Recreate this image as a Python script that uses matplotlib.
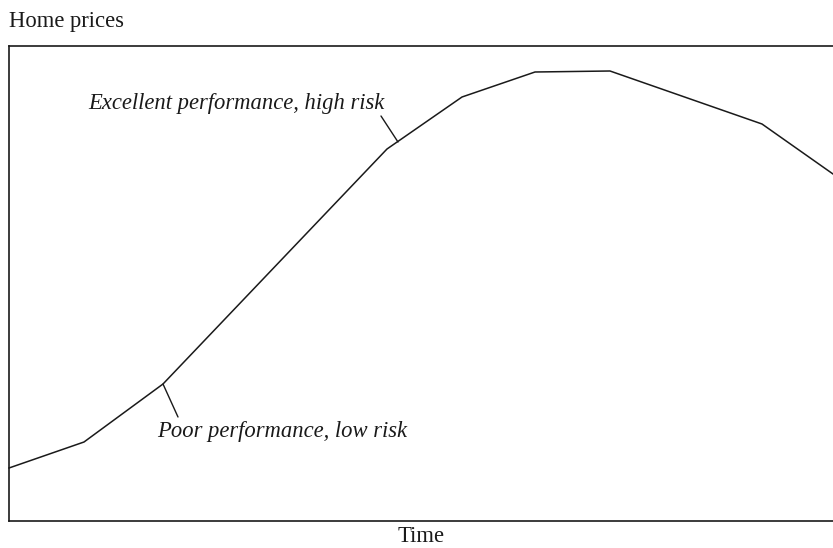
import matplotlib
matplotlib.use("Agg")
import matplotlib.pyplot as plt

# Home price path over time (arbitrary units)
time = [0, 75, 154, 378, 453, 526, 601, 753, 824]
price = [53, 79, 137, 372, 424, 449, 450, 397, 347]

labels = ["Excellent performance, high risk", "Poor performance, low risk"]
# (text x, text y, leader start, leader end on curve)
label_pos = [(376, 418, (372, 405), (389, 379)),
             (148, 89, (169, 104), (154, 137))]
label_ha = ["right", "left"]

plt.rcParams["font.family"] = ["Liberation Serif", "DejaVu Serif"]
FS = 16.3

fig = plt.figure(figsize=(8.33, 5.48), dpi=100)
ax = fig.add_axes([9 / 833, 27 / 548, 824 / 833, 475 / 548])

ax.plot(time, price, color="#1a1a1a", linewidth=1.1, clip_on=False)

for text, (tx, ty, p0, p1), ha in zip(labels, label_pos, label_ha):
    ax.text(tx, ty, text, ha=ha, va="center", fontsize=FS,
            style="italic", color="#1a1a1a")
    ax.annotate("", xy=p1, xytext=p0,
                arrowprops=dict(arrowstyle="-", color="#1a1a1a", lw=1.0,
                                shrinkA=0, shrinkB=0))

ax.set_xlim(0, 824)
ax.set_ylim(0, 475)
ax.set_xticks([])
ax.set_yticks([])
ax.spines["right"].set_visible(False)
for s in ["left", "top", "bottom"]:
    ax.spines[s].set_linewidth(1.2)
    ax.spines[s].set_color("#1a1a1a")

fig.text(9 / 833, 1 - 22 / 548, "Home prices", ha="left", va="center",
         fontsize=FS, color="#1a1a1a")
fig.text(421 / 833, 0.5 / 548, "Time", ha="center", va="bottom",
         fontsize=FS, color="#1a1a1a")

fig.savefig("out.png", dpi=100)
